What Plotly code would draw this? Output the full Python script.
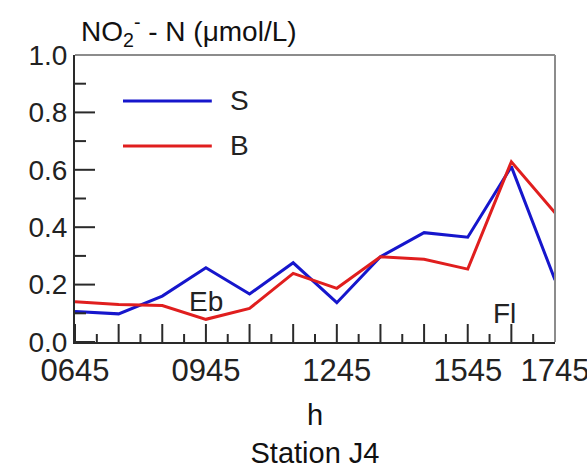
import plotly.graph_objects as go

# Sampling times (hhmm) at Station J4
times = ["0645", "0745", "0845", "0945", "1045", "1145",
         "1245", "1345", "1445", "1545", "1645", "1745"]
# NO2- - N concentration (umol/L), surface and bottom
surface = [0.106, 0.098, 0.160, 0.259, 0.167, 0.276,
           0.137, 0.297, 0.381, 0.365, 0.611, 0.216]
bottom = [0.140, 0.131, 0.127, 0.079, 0.117, 0.239,
          0.187, 0.297, 0.288, 0.254, 0.628, 0.450]
labelled_times = ["0645", "0945", "1245", "1545", "1745"]
y_major = [0.0, 0.2, 0.4, 0.6, 0.8, 1.0]
y_minor = [0.1, 0.3, 0.5, 0.7, 0.9]
tide_marks = [("Eb", "0945", 0.14), ("Fl", "1636", 0.10)]


def hours(t):
    return int(t[:2]) + int(t[2:]) / 60.0


x = [hours(t) for t in times]
label_vals = [hours(t) for t in labelled_times]
half_hours = [h + 0.5 for h in x[:-1]]
x_range = [x[0], x[-1]]
y_range = [0, 1.0]

# page and plot-area geometry
W, H = 587, 469
M = dict(l=75, r=32, t=55, b=127)
plot_w = W - M["l"] - M["r"]
plot_h = H - M["t"] - M["b"]

FONT = "Liberation Sans, Arial, sans-serif"
dark = "#2a2a2a"
frame = "#8c8c8c"
NBSP = "\u00a0"

fig = go.Figure()
fig.add_trace(go.Scatter(x=x, y=surface, mode="lines", name="S",
                         line=dict(color="#1616cc", width=3)))
fig.add_trace(go.Scatter(x=x, y=bottom, mode="lines", name="B",
                         line=dict(color="#e01e1e", width=3)))

fig.update_layout(
    xaxis=dict(
        range=x_range, tickmode="array", tickvals=label_vals,
        ticktext=labelled_times, ticks="",
        showline=True, linewidth=2, linecolor=dark,
        showgrid=False, zeroline=False,
        ticklabeloverflow="allow", automargin=False,
        tickfont=dict(family=FONT, size=31, color="#222222"),
        title=dict(text="h<br>Station J4", standoff=26,
                   font=dict(family=FONT, size=29, color="#111111")),
    ),
    yaxis=dict(
        range=y_range, tickmode="array", tickvals=y_major, tickformat=".1f",
        ticksuffix=NBSP * 4, ticks="",
        showline=True, linewidth=2, linecolor=dark,
        showgrid=False, zeroline=False, automargin=False,
        tickfont=dict(family=FONT, size=28, color="#222222"),
    ),
)

shapes = []


def x_tick(v, length_px):
    return dict(type="line", xref="x", yref="paper", x0=v, x1=v,
                y0=0, y1=length_px / plot_h, line=dict(color=dark, width=2))


def y_tick(v, length_px):
    return dict(type="line", xref="paper", yref="y", y0=v, y1=v,
                x0=0, x1=length_px / plot_w, line=dict(color=dark, width=2))


# inside tick marks: long on the hour, short on the half hour
shapes += [x_tick(v, 18) for v in x]
shapes += [x_tick(v, 8) for v in half_hours]
shapes += [y_tick(v, 20) for v in y_major]
shapes += [y_tick(v, 11) for v in y_minor]

# lighter top and right frame lines
shapes.append(dict(type="line", xref="paper", yref="paper", x0=0, x1=1,
                   y0=1, y1=1, line=dict(color=frame, width=2)))
shapes.append(dict(type="line", xref="paper", yref="paper", x0=1, x1=1,
                   y0=0, y1=1, line=dict(color=frame, width=2)))

annotations = [
    dict(text="NO<sub>2</sub><sup>-</sup> - N (\u03bcmol/L)",
         xref="paper", yref="paper", x=0.008, y=1.085,
         xanchor="left", yanchor="middle", showarrow=False,
         font=dict(family=FONT, size=28, color="#111111")),
]
for txt, t, yv in tide_marks:
    annotations.append(dict(text=txt, x=hours(t), y=yv, xref="x", yref="y",
                            showarrow=False,
                            font=dict(family=FONT, size=28, color="#222222")))

# Legend drawn with long sample lines
for trace, ypos in zip(fig.data, [0.84, 0.683]):
    shapes.append(dict(type="line", xref="paper", yref="paper",
                       x0=0.10, x1=0.285, y0=ypos, y1=ypos,
                       line=dict(color=trace.line.color, width=3)))
    annotations.append(dict(text=trace.name, xref="paper", yref="paper",
                            x=0.318, y=ypos, xanchor="left", yanchor="middle",
                            showarrow=False,
                            font=dict(family=FONT, size=28, color="#222222")))

fig.update_layout(
    width=W, height=H,
    margin=M,
    paper_bgcolor="white", plot_bgcolor="white",
    showlegend=False,
    annotations=annotations, shapes=shapes,
)

fig.write_html("out.html")
